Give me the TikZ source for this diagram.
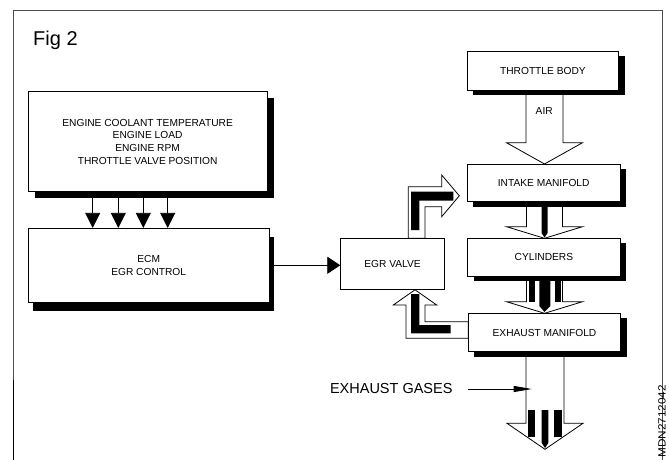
\documentclass[tikz,border=0pt]{standalone}
\usepackage{fontspec}
\setmainfont{Liberation Sans}
\usetikzlibrary{arrows.meta,shadows,backgrounds}

\begin{document}
\begin{tikzpicture}[x=1pt,y=-1pt,
  box/.style={draw=black,line width=0.8pt,fill=white,inner sep=0pt,align=center,
              font=\fontsize{10.2}{12.7}\selectfont},
  shad/.style 2 args={general shadow={fill=black,shadow xshift=#1pt,shadow yshift=-#2pt}},
  hollow/.style={draw=black,line width=0.8pt,fill=white,line join=miter},
  strip/.style={fill=black},
  feed/.style={line width=0.8pt,-{Triangle[width=15pt,length=15pt]}},
  ctrl/.style={line width=0.8pt,-{Triangle[width=17pt,length=13pt]}},
  pointer/.style={line width=0.8pt,-{Triangle[width=6pt,length=18pt]}}
]
\useasboundingbox (0,0) rectangle (669,460);

% frame
\draw[black!70,line width=1pt] (13.3,460) -- (13.3,11) -- (662.3,11) -- (662.3,460);
\draw[black,line width=1.5pt] (13.3,380) -- (13.3,460);

\node[anchor=base west,inner sep=0pt,font=\fontsize{20}{24}\selectfont] (fig) at (33,45.7) {Fig 2};

% boxes
\node[box,shad={7}{6},minimum width=238.7pt,minimum height=100pt] (sens) at (147.6,141.7)
  {ENGINE COOLANT TEMPERATURE\\ENGINE LOAD\\ENGINE RPM\\THROTTLE VALVE POSITION};
\node[box,shad={5}{9},minimum width=241pt,minimum height=74pt] (ecm) at (148.7,265.3)
  {ECM\\EGR CONTROL};
\node[box,minimum width=103.6pt,minimum height=51pt] (egr) at (392.5,263.8) {EGR VALVE};
\node[box,shad={6}{5},minimum width=151.2pt,minimum height=39pt] (thr) at (542.9,70.5) {THROTTLE BODY};
\node[box,shad={6}{5},minimum width=152.7pt,minimum height=37.7pt] (intk) at (543.7,182.9) {INTAKE MANIFOLD};
\node[box,shad={6}{5},minimum width=152.3pt,minimum height=37.7pt] (cyl) at (543.9,257.2) {CYLINDERS};
\node[box,shad={6}{5},minimum width=152.4pt,minimum height=38.4pt] (exh) at (544.5,332.5) {EXHAUST MANIFOLD};

% hollow flow arrows (behind boxes)
\begin{scope}[on background layer]
  \fill[white] (0,0) rectangle (669,460);
  % air
  \draw[hollow] (526,88) -- (526,142.7) -- (506.5,142.7) -- (544.5,164) -- (582.5,142.7)
    -- (563,142.7) -- (563,88) -- cycle;
  % intake -> cylinders
  \draw[hollow] (526.5,200) -- (526.5,226.7) -- (506.5,226.7) -- (544.5,238.3) -- (582.5,226.7)
    -- (562.5,226.7) -- (562.5,200) -- cycle;
  \fill[strip] (541.5,200) -- (547.5,200) -- (547.5,233) -- (544.5,237.5) -- (541.5,233) -- cycle;
  % cylinders -> exhaust
  \draw[hollow] (526.5,274) -- (526.5,301.7) -- (506.5,301.7) -- (544.5,313.3) -- (582.5,301.7)
    -- (562.5,301.7) -- (562.5,274) -- cycle;
  \fill[strip] (529.3,276) rectangle (534.7,301.7);
  \fill[strip] (539.3,276) -- (550.3,276) -- (550.3,306) -- (544.5,312) -- (539.3,306) -- cycle;
  \fill[strip] (555,276) rectangle (561.2,301.7);
  % exhaust out
  \draw[hollow] (526,350) -- (526,423.3) -- (507,423.3) -- (545,449.3) -- (583,423.3)
    -- (564,423.3) -- (564,350) -- cycle;
  \fill[strip] (528.3,410) rectangle (535,436.7);
  \fill[strip] (541.7,410) -- (548.3,410) -- (548.3,443) -- (545,448) -- (541.7,443) -- cycle;
  \fill[strip] (554,410) rectangle (561.7,436.7);
  % EGR valve -> intake
  \draw[hollow] (408.3,238.3) -- (408.3,186.7) -- (441.7,186.7) -- (441.7,175) -- (459.3,195.8)
    -- (441.7,216.7) -- (441.7,206.7) -- (425,206.7) -- (425,238.3) -- cycle;
  \fill[strip] (411,230) -- (411,191.7) -- (453.3,191.7) -- (453.3,200.7) -- (419.3,200.7)
    -- (419.3,230) -- cycle;
  % exhaust -> EGR valve
  \draw[hollow] (415,289.8) -- (436.7,305) -- (425,305) -- (425,321.7) -- (468.3,321.7)
    -- (468.3,338.3) -- (406,338.3) -- (406,305) -- (393.3,305) -- cycle;
  \fill[strip] (411,294) -- (419.3,294) -- (419.3,325) -- (450.7,325) -- (450.7,333.3)
    -- (411,333.3) -- cycle;
\end{scope}

\node[inner sep=0pt,font=\fontsize{10.2}{12.7}\selectfont] (air) at (544.2,111) {AIR};

% sensor inputs to ECM
\foreach \xx in {92.7,118.3,143.3,167.7}
  \draw[feed] (sens.south -| \xx,0) -- (ecm.north -| \xx,0);

% ECM to EGR valve
\draw[ctrl] (ecm.east) -- (ecm.east -| egr.west);

% exhaust gases label
\node[anchor=base east,inner sep=0pt,font=\fontsize{14.5}{17}\selectfont] (gas) at (452.7,393.3) {EXHAUST GASES};
\coordinate (gp) at (468.3,389);
\coordinate (gt) at (531.7,389);
\draw[pointer] (gp) -- (gt);

% reference code
\node[rotate=90,anchor=base east,inner sep=0pt,font=\fontsize{10.5}{12}\selectfont] (ref) at (665.7,385)
  {\scalebox{1.12}[1]{MDN2712042}};
\end{tikzpicture}
\end{document}
